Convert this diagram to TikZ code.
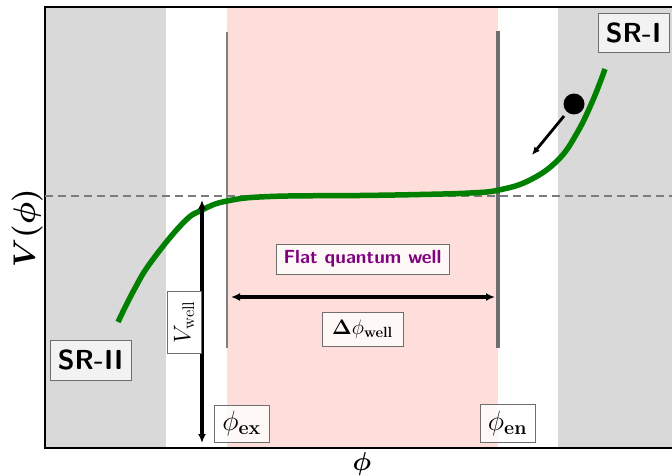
\RequirePackage{fix-cm}
\documentclass[tikz,border=0pt]{standalone}
\usepackage{amsmath,bm}
\usetikzlibrary{arrows.meta}
\definecolor{regiongray}{RGB}{217,217,217}
\definecolor{wellpink}{RGB}{253,222,218}
\definecolor{curvegreen}{RGB}{0,128,0}
\definecolor{labelpurple}{RGB}{128,0,128}
\definecolor{edgegray}{RGB}{110,110,110}
\tikzset{
  tagbox/.style={draw=edgegray, fill=white, fill opacity=0.8, text opacity=1, line width=0.9pt, inner sep=1pt, font=\fontsize{22}{24}\selectfont},
  srbox/.style={draw=edgegray, fill=white!95!black, line width=0.9pt, inner sep=1pt, font=\fontsize{27.5}{30}\selectfont\sffamily\bfseries},
  bigarrow/.style={line width=3.5pt, {Latex[length=9pt,width=8pt]}-{Latex[length=9pt,width=8pt]}},
}
\begin{document}
\begin{tikzpicture}[x=1pt,y=-1pt]
\useasboundingbox (0,0) rectangle (672,476);
% regions
\fill[regiongray] (45,7) rectangle (166,448);
\fill[wellpink] (227,7) rectangle (498,448);
\fill[regiongray] (558,7) rectangle (672,448);
% frame
\draw[line width=1.2pt] (672,7) -- (45,7) -- (45,448) -- (672,448);
% dashed level
\draw[edgegray!90, line width=2pt, dash pattern=on 8pt off 5pt] (45,196) -- (672,196);
% vertical markers
\coordinate (exTop) at (227,32);
\coordinate (exBot) at (227,348);
\coordinate (enTop) at (498,31);
\coordinate (enBot) at (498,348);
\draw[gray, line width=2pt] (exTop) -- (exBot);
\draw[edgegray, line width=3.5pt] (enTop) -- (enBot);
% potential curve
\draw[curvegreen, line width=5.5pt] plot[smooth, tension=0.7] coordinates {
 (118,322) (134,290) (151,262) (183,223) (202,210) (227,201) (270,196.5) (360,195.5) (420,194.5) (470,193) (499,190) (530,180) (558,160) (577,133) (593,100) (605,69)};
% ball and roll arrow
\node[circle, fill=black, minimum size=21pt, inner sep=0pt] (ball) at (574,104) {};
\coordinate (rollStart) at (564,116);
\coordinate (rollEnd) at (532,155);
\draw[line width=2.8pt, -{Latex[length=8pt,width=7pt]}] (rollStart) -- (rollEnd);
% V_well arrow
\coordinate (vTop) at (202,200);
\coordinate (vBot) at (202,443);
\draw[bigarrow] (vTop) -- (vBot);
% Delta phi arrow
\coordinate (dLeft) at (231,297);
\coordinate (dRight) at (495,297);
\draw[bigarrow] (dLeft) -- (dRight);
% labels
\node[tagbox, fill opacity=1, rotate=90, minimum width=62pt, minimum height=34pt, font=\fontsize{24}{26}\selectfont] (vwell) at (184,322) {$V_{\mathrm{well}}$};
\node[tagbox, minimum width=81pt, minimum height=34pt, font=\fontsize{21}{23}\selectfont] (dphi) at (362.5,329) {$\bm{\Delta}\phi_{\mathbf{well}}$};
\node[tagbox, minimum width=173pt, minimum height=30pt, font=\fontsize{19}{21}\selectfont\sffamily\bfseries, text=labelpurple] (flat) at (362.5,259) {Flat quantum well};
\node[tagbox, minimum width=55pt, minimum height=37pt, font=\fontsize{28}{30}\selectfont] (phiex) at (241.5,423.5) {$\phi_{\mathbf{ex}}$};
\node[tagbox, minimum width=55pt, minimum height=38pt, font=\fontsize{28}{30}\selectfont] (phien) at (507.5,423) {$\phi_{\mathbf{en}}$};
\node[srbox, minimum width=71pt, minimum height=39pt] (sr1) at (633.5,32.5) {SR-I};
\node[srbox, minimum width=81pt, minimum height=40pt] (sr2) at (90.5,360) {SR-II};
% axis labels
\node[rotate=90, font=\fontsize{31}{34}\selectfont] (ylab) at (27,228) {$\bm{V(\phi)}$};
\node[font=\fontsize{26}{28}\selectfont] (xlab) at (362,464) {$\bm{\phi}$};
\end{tikzpicture}
\end{document}
